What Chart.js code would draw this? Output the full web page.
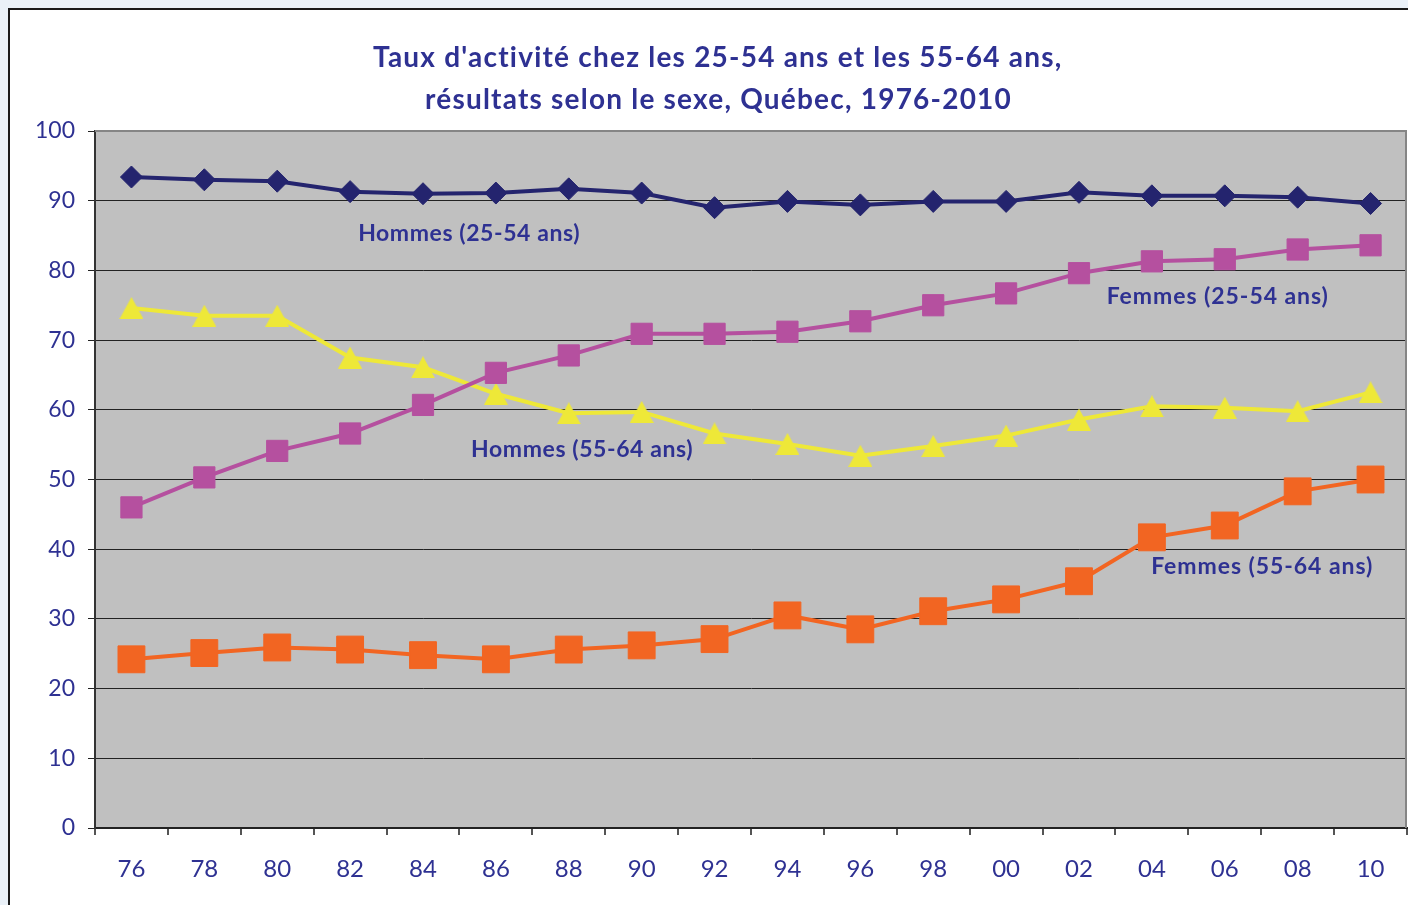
<!DOCTYPE html>
<html><head><meta charset="utf-8">
<script src="https://cdn.jsdelivr.net/npm/chart.js@4.4.1/dist/chart.umd.min.js"></script>
<style>
html,body{margin:0;padding:0;width:1408px;height:905px;overflow:hidden;background:#EAF1F8;}
#frame{position:absolute;left:8px;top:8px;width:1500px;height:1000px;background:#fff;border-left:2px solid #1a1a1a;border-top:2px solid #1a1a1a;box-sizing:border-box;}
#wrap{position:absolute;left:0;top:0;width:1408px;height:905px;}
</style></head><body>
<div id="frame"></div>
<div id="wrap"><canvas id="c" width="1408" height="905"></canvas></div>
<script>
const categories = ['76','78','80','82','84','86','88','90','92','94','96','98','00','02','04','06','08','10'];
const hommes2554 = [93.4,93.0,92.8,91.3,91.0,91.1,91.7,91.1,89.0,89.9,89.4,89.9,89.9,91.2,90.7,90.7,90.5,89.6];
const femmes2554 = [46.0,50.3,54.1,56.6,60.7,65.3,67.8,70.9,70.9,71.2,72.7,75.0,76.7,79.6,81.3,81.6,83.0,83.6];
const hommes5564 = [74.6,73.5,73.5,67.5,66.1,62.3,59.5,59.7,56.6,55.1,53.4,54.8,56.3,58.6,60.5,60.3,59.8,62.5];
const femmes5564 = [24.2,25.1,25.9,25.6,24.8,24.2,25.6,26.2,27.1,30.5,28.5,31.1,32.8,35.4,41.7,43.4,48.3,50.0];
const seriesNames = ['Hommes (25-54 ans)','Femmes (25-54 ans)','Hommes (55-64 ans)','Femmes (55-64 ans)'];
const titleLines = ["Taux d'activité chez les 25-54 ans et les 55-64 ans,", "résultats selon le sexe, Québec, 1976-2010"];
const yTicks = [0,10,20,30,40,50,60,70,80,90,100];
// label anchors: left edge (category index, fractional) and vertical centre (value)
const labelX = [3.11, 13.38, 4.66, 13.99];
const labelY = [85.3, 76.3, 54.3, 37.5];

const TEXT = '#2E3192';
const FONT = 'Lato, "Open Sans", sans-serif';

// triangle marker centred on its bounding box
const tri = document.createElement('canvas');
tri.width = 24; tri.height = 22;
(function(){const g=tri.getContext('2d');g.fillStyle='#EEE838';g.beginPath();g.moveTo(12,0);g.lineTo(24,22);g.lineTo(0,22);g.closePath();g.fill();})();

function fitText(ctx, txt, width){
  ctx.letterSpacing = '0px';
  const w = ctx.measureText(txt).width;
  const sp = (width - w) / txt.length;
  ctx.letterSpacing = sp.toFixed(2) + 'px';
}

const decor = {
  id:'decor',
  beforeDraw(chart){
    const {ctx, chartArea:a} = chart;
    ctx.save(); ctx.fillStyle='#C0C0C0'; ctx.fillRect(a.left,a.top,a.right-a.left,a.bottom-a.top); ctx.restore();
  },
  beforeDatasetsDraw(chart){
    const {ctx, chartArea:a} = chart;
    ctx.save(); ctx.strokeStyle='#858585'; ctx.lineWidth=2;
    ctx.beginPath(); ctx.moveTo(a.left,a.top); ctx.lineTo(a.right-1,a.top); ctx.lineTo(a.right-1,a.bottom); ctx.stroke();
    ctx.restore();
  },
  afterDraw(chart){
    const {ctx} = chart;
    const xs = chart.scales.x, ys = chart.scales.y;
    ctx.save();
    ctx.fillStyle = TEXT;
    ctx.textBaseline='middle';
    ctx.textAlign='left';
    ctx.font = 'bold 28px ' + FONT;
    fitText(ctx, titleLines[0], 690);
    ctx.fillText(titleLines[0], 373, 58);
    fitText(ctx, titleLines[1], 587);
    ctx.fillText(titleLines[1], 425, 100);
    ctx.font = 'bold 23px ' + FONT;
    for (let i=0;i<seriesNames.length;i++){
      const x0 = xs.getPixelForValue(0), x1 = xs.getPixelForValue(1);
      fitText(ctx, seriesNames[i], 222);
      ctx.fillText(seriesNames[i], x0 + labelX[i]*(x1-x0), ys.getPixelForValue(labelY[i]));
    }
    ctx.restore();
  }
};

new Chart(document.getElementById('c'), {
  type:'line',
  data:{
    labels:categories,
    datasets:[
      {label:seriesNames[0], data:hommes2554, borderColor:'#24246E', backgroundColor:'#24246E', borderWidth:4, pointStyle:'rectRot', pointRadius:11, pointBorderWidth:1},
      {label:seriesNames[1], data:femmes2554, borderColor:'#B5509F', backgroundColor:'#B5509F', borderWidth:4, pointStyle:'rect', pointRadius:15, pointBorderWidth:1},
      {label:seriesNames[2], data:hommes5564, borderColor:'#EEE838', backgroundColor:'#EEE838', borderWidth:4, pointStyle:tri, pointRadius:12},
      {label:seriesNames[3], data:femmes5564, borderColor:'#F26522', backgroundColor:'#F26522', borderWidth:4, pointStyle:'rect', pointRadius:19, pointBorderWidth:1}
    ]
  },
  options:{
    responsive:false, animation:false, devicePixelRatio:1,
    layout:{autoPadding:false, padding:{top:131,left:0,right:1,bottom:0}},
    plugins:{legend:{display:false}, tooltip:{enabled:false}, title:{display:false}},
    elements:{line:{tension:0}, point:{hoverRadius:0}},
    scales:{
      x:{
        offset:true,
        grid:{offset:true, drawOnChartArea:false, drawTicks:true, tickLength:7, color:'#555', lineWidth:2},
        border:{display:true, color:'#222', width:2},
        ticks:{color:TEXT, font:{family:FONT, size:24}, padding:20, maxRotation:0, autoSkip:false},
        afterFit(s){ s.height = 77; }
      },
      y:{
        min:0, max:100,
        afterBuildTicks(s){ s.ticks = yTicks.map(v=>({value:v})); },
        grid:{color:'#222', lineWidth:1, tickLength:7, drawTicks:true},
        border:{display:true, color:'#333', width:2},
        ticks:{color:TEXT, font:{family:FONT, size:23}, padding:13},
        afterFit(s){ s.width = 95; }
      }
    }
  },
  plugins:[decor]
});
</script>
</body></html>
